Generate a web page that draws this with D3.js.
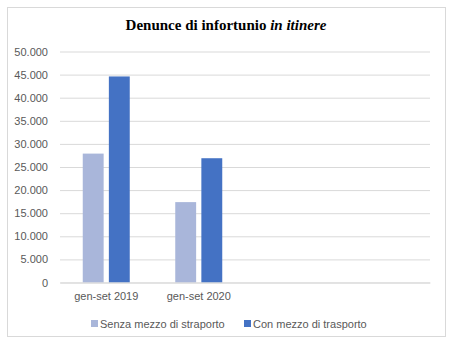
<!DOCTYPE html>
<html>
<head lang="it">
    <meta charset="UTF-8">
    <title></title>
    <script src="https://cdn.jsdelivr.net/npm/d3@7"></script>
    <style>
        body{margin:0;background:#fff;}
    </style>
</head>
<body>
<script>
    var categories=["gen-set 2019","gen-set 2020"];
    var seriesNames=["Senza mezzo di straporto","Con mezzo di trasporto"];
    var senzaMezzo=[27900,17400];
    var conMezzo=[44600,26900];
    var yTicks=[0,5000,10000,15000,20000,25000,30000,35000,40000,45000,50000];
    var colors=["#a9b6da","#4472c4"];

    var svg=d3.select("body").append("svg")
            .attr("width",454)
            .attr("height",351);

    svg.append("rect")
            .attr("x",7.5).attr("y",7.5)
            .attr("width",438).attr("height",329)
            .attr("fill","#fff")
            .attr("stroke","#d9d9d9");

    // titolo
    var title=svg.append("text")
            .attr("x",226).attr("y",30)
            .attr("text-anchor","middle")
            .style("font-family","'Liberation Serif','Times New Roman',serif")
            .style("font-size","15px")
            .style("font-weight","bold")
            .attr("fill","#000");
    title.append("tspan").text("Denunce di infortunio ");
    title.append("tspan").style("font-style","italic").text("in itinere");

    // 4 slot: gli ultimi due sono vuoti
    var slots=categories.concat(["_a","_b"]);
    var x=d3.scaleBand().domain(slots).range([60,430]);
    var inner=d3.scaleBand().domain([0,1]).range([x.bandwidth()/2-23.5,x.bandwidth()/2+23.5]).paddingInner(0.2);
    var y=d3.scaleLinear().domain([0,50000]).range([282.5,51.5]);

    var fmt=function(d){return d3.format(",")(d).replace(/,/g,".");};

    var gy=svg.append("g").attr("transform","translate(60,0)");
    gy.call(d3.axisLeft(y).tickValues(yTicks).tickSize(0).tickPadding(12).tickFormat(fmt));
    gy.select(".domain").remove();
    gy.selectAll(".tick line").remove();
    gy.selectAll(".tick").append("line")
            .attr("x1",0).attr("x2",370)
            .attr("stroke","#d9d9d9").attr("stroke-width",1);
    gy.selectAll("text")
            .attr("fill","#595959")
            .style("font-family","'Liberation Sans',Arial,sans-serif")
            .style("font-size","11px");

    var gx=svg.append("g").attr("transform","translate(0,282.5)");
    gx.call(d3.axisBottom(x).tickSize(0).tickPadding(10).tickFormat(function(d){return d.charAt(0)=="_"?"":d;}));
    gx.select(".domain").attr("stroke","#d9d9d9");
    gx.selectAll("text")
            .attr("fill","#595959")
            .style("font-family","'Liberation Sans',Arial,sans-serif")
            .style("font-size","11px");

    var series=[senzaMezzo,conMezzo];
    var gBars=svg.append("g");
    series.forEach(function(values,s){
        gBars.append("g").selectAll("rect")
                .data(values)
                .enter()
                .append("rect")
                .attr("x",function(d,i){return x(categories[i])+inner(s);})
                .attr("y",function(d){return y(d);})
                .attr("width",inner.bandwidth())
                .attr("height",function(d){return y(0)-y(d);})
                .attr("fill",colors[s]);
    });
    gx.raise();

    // legenda
    var legendX=[91,244];
    var leg=svg.append("g");
    seriesNames.forEach(function(name,i){
        leg.append("rect")
                .attr("x",legendX[i]).attr("y",320)
                .attr("width",7).attr("height",7)
                .attr("fill",colors[i]);
        leg.append("text")
                .attr("x",legendX[i]+9).attr("y",327.5)
                .attr("fill","#595959")
                .style("font-family","'Liberation Sans',Arial,sans-serif")
                .style("font-size","11px")
                .text(name);
    });
</script>
</body>
</html>
